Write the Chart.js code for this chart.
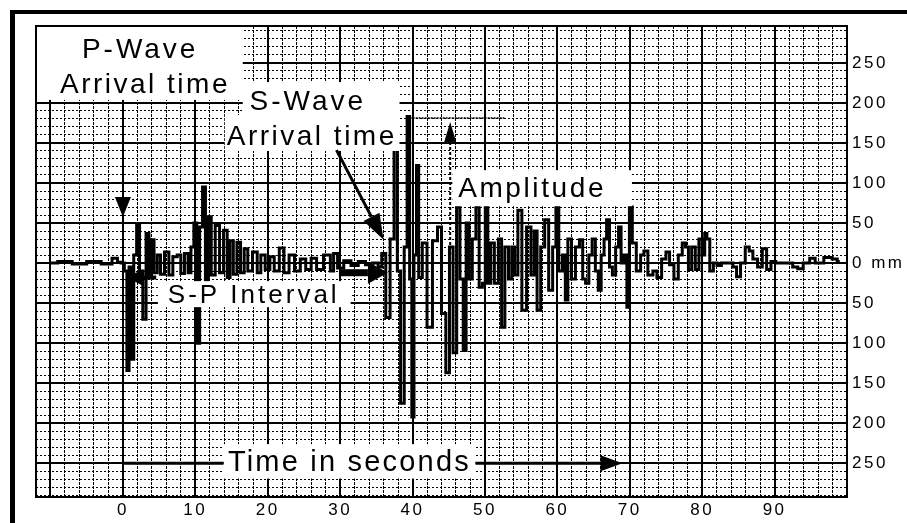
<!DOCTYPE html>
<html>
<head>
<meta charset="utf-8">
<script src="https://cdn.jsdelivr.net/npm/chart.js@4.4.1/dist/chart.umd.min.js"></script>
<style>
  html, body { margin: 0; padding: 0; background: #fff; }
  #wrap { width: 907px; height: 523px; position: relative; }
</style>
</head>
<body>
<div id="wrap"><canvas id="c" width="907" height="523"></canvas></div>
<script>
// ---- data (seconds, mm) ----
const times = [-10,-8,-6,-4,-2,-1,-0.5,0,0.4,0.7,1.0,1.3,1.7,2.1,2.5,3.0,3.4,3.8,4.1,4.5,5.0,5.4,6.1,6.6,7.2,7.8,8.2,8.8,9.2,9.6,10.0,10.4,10.8,11.2,11.6,12.0,12.4,13.1,13.6,14.2,14.6,15.0,15.5,16.0,16.5,17.0,17.5,18.3,18.8,19.3,20.0,20.6,21.2,22.0,22.5,23.4,24.0,25.0,25.5,26.5,27.0,28.4,28.9,29.3,30.0,31.0,32.0,33.0,34.0,35.0,35.5,36.0,36.6,37.2,37.7,38.1,38.6,39.1,39.4,39.8,40.0,40.4,40.7,41.0,41.7,42.3,43.2,43.7,44.3,44.9,45.3,45.9,46.3,46.8,47.2,47.6,48.0,48.5,49.0,49.4,49.9,50.2,50.6,51.0,51.6,52.1,52.5,53.0,53.5,53.9,54.3,54.8,55.4,56.1,56.6,57.0,57.4,58.0,58.5,59.1,59.6,60.0,60.4,61.0,61.2,61.7,62.2,62.8,63.3,63.7,64.1,64.6,65.0,65.5,65.8,66.3,66.6,67.0,67.4,67.8,68.3,68.6,69.0,69.4,69.8,70.1,70.6,71.2,71.8,72.1,72.9,73.5,74.0,74.8,75.2,75.8,76.4,77.0,77.5,77.9,78.3,78.8,79.3,79.8,80.2,80.5,80.8,81.3,81.8,82.3,83.0,84.0,84.5,85.0,85.6,86.3,86.7,87.3,88.0,88.6,89.2,89.8,90.5,92.0,93.0,93.4,94.5,95.2,96.0,97.6,98.3,99.0];
const amplitudes = [0,2,-1,2,-1,6,1,0,-10,-134,-5,-120,10,47,-10,-70,37,-15,29,-12,10,-14,14,-15,8,10,-13,12,-12,20,50,-100,45,95,-30,58,-15,47,-12,41,-18,28,-14,26,-12,18,-10,14,-12,10,-8,8,-10,19,-12,10,-10,5,-8,6,-8,10,-10,12,-6,3,-3,2,-2,0,-5,12,-68,30,144,-10,-175,20,183,-20,-192,10,122,-18,25,-80,28,45,-63,-137,20,-112,70,-20,-109,50,-20,30,70,-30,-25,70,-25,25,-25,30,-80,20,-20,20,-15,66,-59,45,-15,40,-59,20,54,-34,20,70,-10,10,-46,30,-20,20,29,-20,-25,10,30,-10,-34,10,30,54,-5,-15,20,45,0,10,-55,70,25,-10,10,15,-15,-10,-18,5,14,-2,-20,10,25,20,-8,20,-8,30,10,37,30,-10,0,-3,0,0,-5,-17,0,20,15,5,-5,18,-8,2,0,0,-5,-7,0,6,0,7,5,2];
const xTickValues = [0,10,20,30,40,50,60,70,80,90];
const xTickLabels = ['0','10','20','30','40','50','60','70','80','90'];
const yTickValues = [250,200,150,100,50,0,-50,-100,-150,-200,-250];
const yTickLabels = ['250','200','150','100','50','0 mm','50','100','150','200','250'];

const points = times.map((t, i) => ({ x: t, y: amplitudes[i] }));
const FONT = '"Liberation Sans", Arial, sans-serif';

function arrow(ctx, x1, y1, x2, y2, w, hl, hw) {
  const a = Math.atan2(y2 - y1, x2 - x1);
  const bx = x2 - hl * Math.cos(a), by = y2 - hl * Math.sin(a);
  if (w > 0) {
    ctx.lineWidth = w;
    ctx.beginPath(); ctx.moveTo(x1, y1); ctx.lineTo(bx, by); ctx.stroke();
  }
  ctx.setLineDash([]);
  ctx.beginPath();
  ctx.moveTo(x2, y2);
  ctx.lineTo(bx + hw * Math.sin(a), by - hw * Math.cos(a));
  ctx.lineTo(bx - hw * Math.sin(a), by + hw * Math.cos(a));
  ctx.closePath(); ctx.fill();
}

const annoPlugin = {
  id: 'anno',
  beforeDraw(chart) { chart.ctx.letterSpacing = '2.5px'; },
  afterDatasetsDraw(chart) {
    const ctx = chart.ctx;
    const X = v => chart.scales.x.getPixelForValue(v);
    const Y = v => chart.scales.y.getPixelForValue(v);
    const box = (t1, t2, v1, v2) => { ctx.fillRect(X(t1), Y(v1), X(t2) - X(t1), Y(v2) - Y(v1)); };
    ctx.save();
    ctx.fillStyle = '#fff';
    box(-11.86, 16.55, 295, 203.75);   // P-Wave
    box(16.55, 38.2, 226, 182.5);      // S-Wave
    box(14.07, 38.2, 185, 140);        // Arrival time (S)
    box(45.5, 70.3, 116, 71);          // Amplitude
    box(4.83, 31.45, -22.5, -55);      // S-P Interval
    box(13.9, 48.7, -226, -269);       // Time in seconds

    ctx.fillStyle = '#000';
    ctx.strokeStyle = '#000';
    ctx.textAlign = 'left';
    ctx.textBaseline = 'alphabetic';
    const txt = (s, t, v, size, sp) => {
      ctx.font = size + 'px ' + FONT;
      ctx.letterSpacing = sp + 'px';
      ctx.fillText(s, X(t), Y(v));
    };
    txt('P-Wave', -5.66, 256, 28, 3);
    txt('Arrival time', -8.69, 212.5, 28, 2.5);
    txt('S-Wave', 17.5, 191, 28, 3);
    txt('Arrival time', 14.34, 147.5, 28, 2.5);
    txt('Amplitude', 46.3, 82.5, 28, 2.6);
    txt('S-P Interval', 6.2, -50, 26, 3);
    txt('Time in seconds', 14.5, -259, 29, 2.2);

    // P-wave arrow head
    arrow(ctx, X(0), Y(95), X(0), Y(57.5), 0, 20, 8);
    // S-wave arrow
    arrow(ctx, X(29.5), Y(141), X(36.0), Y(29), 3, 26, 9);
    // S-P interval arrows
    arrow(ctx, X(4.6), Y(-18), X(0.5), Y(-18), 4, 16, 8);
    arrow(ctx, X(30.0), Y(-12), X(36.6), Y(-12), 7, 20, 11);
    // Time arrows
    ctx.lineWidth = 3;
    ctx.beginPath(); ctx.moveTo(X(0), Y(-250)); ctx.lineTo(X(13.9), Y(-250)); ctx.stroke();
    arrow(ctx, X(48.7), Y(-250), X(69.0), Y(-250), 3, 22, 8);
    // Amplitude markers
    ctx.setLineDash([2, 1]);
    ctx.lineWidth = 1.5;
    ctx.beginPath(); ctx.moveTo(X(39.6), Y(181)); ctx.lineTo(X(52.7), Y(181)); ctx.stroke();
    ctx.setLineDash([3, 2]);
    arrow(ctx, X(45.2), Y(10), X(45.2), Y(176), 2, 20, 6);
    ctx.restore();
  },
  afterDraw(chart) {
    const ctx = chart.ctx, ca = chart.chartArea;
    ctx.save();
    ctx.strokeStyle = '#000';
    ctx.lineWidth = 2;
    ctx.strokeRect(ca.left, ca.top, ca.right - ca.left, ca.bottom - ca.top);
    ctx.fillStyle = '#000';
    ctx.fillRect(10, 10, 897, 4);
    ctx.fillRect(10, 10, 5, 513);
    ctx.restore();
  }
};

const labelFor = (vals, labels) => v => { const i = vals.indexOf(v); return i >= 0 ? labels[i] : ''; };

new Chart(document.getElementById('c'), {
  type: 'line',
  data: {
    datasets: [{
      data: points,
      borderColor: '#000',
      borderWidth: 3,
      borderJoinStyle: 'miter',
      stepped: 'middle',
      pointRadius: 0,
      fill: false,
      xAxisID: 'x',
      yAxisID: 'y'
    }]
  },
  options: {
    responsive: false,
    animation: false,
    events: [],
    layout: { padding: { left: 36, top: 26, right: 0, bottom: 0 } },
    plugins: { legend: { display: false }, tooltip: { enabled: false } },
    scales: {
      x: {
        type: 'linear', position: 'bottom', min: -12, max: 100,
        ticks: { display: false, stepSize: 2, autoSkip: false, includeBounds: false },
        grid: { color: '#000', lineWidth: 1, drawTicks: false },
        border: { display: false, dash: [3, 1] },
        afterFit(s) { s.height = 0; }
      },
      xMajor: {
        type: 'linear', position: 'bottom', min: -12, max: 100,
        ticks: {
          stepSize: 10, autoSkip: false, maxRotation: 0, includeBounds: false, padding: 3,
          color: '#000', font: { family: FONT, size: 17 },
          callback: labelFor(xTickValues, xTickLabels)
        },
        grid: { color: '#000', lineWidth: 2, drawTicks: false },
        border: { display: true, color: '#000', width: 2 },
        afterFit(s) { s.height = 26; }
      },
      y: {
        type: 'linear', position: 'right', min: -292, max: 296,
        ticks: { display: false, stepSize: 10, includeBounds: false },
        grid: { color: '#000', lineWidth: 1, drawTicks: false },
        border: { display: false, dash: [2, 2] },
        afterFit(s) { s.width = 0; }
      },
      yMajor: {
        type: 'linear', position: 'right', min: -292, max: 296,
        ticks: {
          stepSize: 50, autoSkip: false, includeBounds: false, padding: 5,
          color: '#000', font: { family: FONT, size: 17 },
          callback: labelFor(yTickValues, yTickLabels)
        },
        grid: { color: '#000', lineWidth: 2, drawTicks: false },
        border: { display: true, color: '#000', width: 2 },
        afterFit(s) { s.width = 60; }
      }
    }
  },
  plugins: [annoPlugin]
});
</script>
</body>
</html>
